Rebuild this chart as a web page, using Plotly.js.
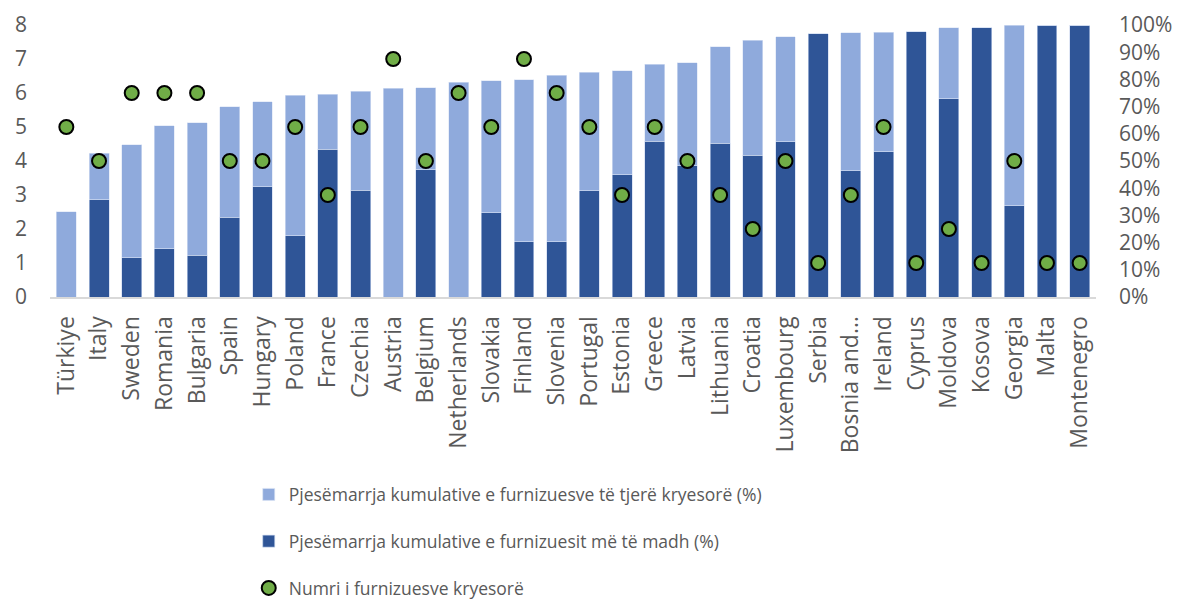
<!DOCTYPE html>
<html>
<head>
<meta charset="utf-8">
<script src="https://cdn.plot.ly/plotly-3.0.1.min.js"></script>
<style>
  body { margin: 0; background: #fff; }
  #chart { width: 1182px; height: 600px; }
</style>
</head>
<body>
<div id="chart"></div>
<script>
var countries = ["Türkiye", "Italy", "Sweden", "Romania", "Bulgaria", "Spain", "Hungary", "Poland",
  "France", "Czechia", "Austria", "Belgium", "Netherlands", "Slovakia", "Finland", "Slovenia",
  "Portugal", "Estonia", "Greece", "Latvia", "Lithuania", "Croatia", "Luxembourg", "Serbia",
  "Bosnia and…", "Ireland", "Cyprus", "Moldova", "Kosova", "Georgia", "Malta", "Montenegro"];

// share of the largest supplier (%)
var largestShare = [0, 35.8, 14.5, 17.8, 15.3, 29.4, 40.6, 22.5,
  54.3, 39.3, 0, 46.8, 0, 30.9, 20.3, 20.3,
  39.1, 45.0, 57.2, 48.3, 56.5, 52.1, 57.0, 96.8,
  46.4, 53.4, 97.5, 72.9, 98.9, 33.5, 100, 100];

// share of the other main suppliers (%)
var otherShare = [31.4, 17.1, 41.5, 45.1, 48.7, 40.5, 31.1, 51.6,
  20.2, 36.4, 76.8, 30.2, 78.9, 48.6, 59.5, 61.2,
  43.5, 38.2, 28.3, 37.8, 35.5, 42.3, 38.7, 0,
  50.8, 43.9, 0, 26.0, 0, 66.5, 0, 0];

// number of main suppliers
var supplierCount = [5, 4, 6, 6, 6, 4, 4, 5,
  3, 5, 7, 4, 6, 5, 7, 6,
  5, 3, 5, 4, 3, 2, 4, 1,
  3, 5, 1, 2, 1, 4, 1, 1];

var grey = "#595959";
var font = "Open Sans, sans-serif";

var traceLargest = {
  x: countries,
  y: largestShare,
  type: "bar",
  name: "Pjesëmarrja kumulative e furnizuesit më të madh (%)",
  marker: { color: "#2F5597", line: { color: "#C9D6EE", width: 0.6 } },
  yaxis: "y",
  legendgroup: "a",
  legendrank: 2,
  hoverinfo: "x+y"
};

var traceOther = {
  x: countries,
  y: otherShare,
  type: "bar",
  name: "Pjesëmarrja kumulative e furnizuesve të tjerë kryesorë (%)",
  marker: { color: "#8FAADC", line: { color: "#DCE5F5", width: 0.6 } },
  yaxis: "y",
  legendgroup: "b",
  legendrank: 1,
  hoverinfo: "x+y"
};

var traceCount = {
  x: countries,
  y: supplierCount,
  type: "scatter",
  mode: "markers",
  name: "Numri i furnizuesve kryesorë",
  marker: { color: "#70AD47", size: 14, line: { color: "#000000", width: 2 } },
  yaxis: "y2",
  legendgroup: "c",
  legendrank: 3
};

var data = [traceLargest, traceOther, traceCount];

var layout = {
  width: 1182,
  height: 600,
  barmode: "stack",
  bargap: 0.39,
  paper_bgcolor: "#ffffff",
  plot_bgcolor: "#ffffff",
  font: { family: font, color: grey },
  margin: { l: 50, r: 86, t: 25, b: 303, autoexpand: false },
  showlegend: true,
  legend: {
    orientation: "v",
    x: 0.19,
    xanchor: "left",
    y: -0.66,
    yanchor: "top",
    traceorder: "grouped",
    tracegroupgap: 21,
    font: { family: font, size: 17.5, color: grey }
  },
  xaxis: {
    type: "category",
    range: [-0.5, countries.length - 0.5],
    tickangle: -90,
    tickfont: { family: font, size: 23, color: grey },
    showline: true,
    linecolor: "#D9D9D9",
    linewidth: 2,
    showgrid: false,
    zeroline: false,
    ticks: "",
    automargin: false,
    ticklabelstandoff: 8
  },
  yaxis: {
    side: "right",
    range: [0, 100],
    dtick: 10,
    ticksuffix: "%",
    showgrid: false,
    zeroline: false,
    showline: false,
    ticks: "",
    automargin: false,
    tickfont: { family: font, size: 21, color: grey },
    ticklabelstandoff: 22
  },
  yaxis2: {
    overlaying: "y",
    side: "left",
    range: [0, 8],
    dtick: 1,
    showgrid: false,
    zeroline: false,
    showline: false,
    ticks: "",
    automargin: false,
    tickfont: { family: font, size: 21, color: grey },
    ticklabelstandoff: 22
  }
};

Plotly.newPlot("chart", data, layout, { displayModeBar: false });
</script>
</body>
</html>
